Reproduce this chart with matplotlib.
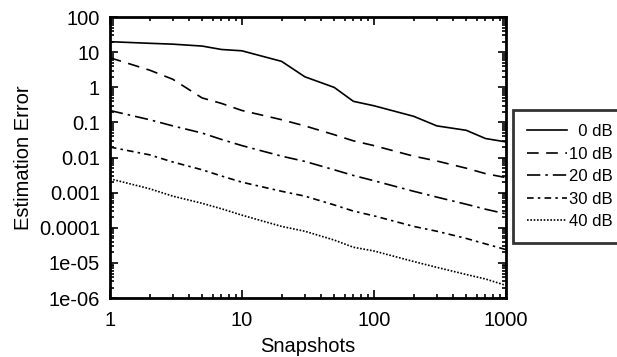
import matplotlib
matplotlib.use("Agg")
from matplotlib import pyplot as plt
from matplotlib.ticker import LogLocator, FixedLocator, NullFormatter

plt.rcParams["font.family"] = ["Liberation Sans", "DejaVu Sans"]
plt.rcParams["font.size"] = 14.5

snapshots = [1, 2, 3, 5, 7, 10, 20, 30, 50, 70, 100, 200, 300, 500, 700, 1000]

err_0db = [20, 18, 17, 15, 12, 11, 5.5, 2.0, 1.0, 0.4, 0.3, 0.15, 0.08, 0.06, 0.035, 0.028]
err_10db = [7, 3.1, 1.7, 0.5, 0.35, 0.22, 0.12, 0.08, 0.045, 0.03, 0.022, 0.011,
            0.008, 0.005, 0.0035, 0.0027]
err_20db = [0.22, 0.12, 0.08, 0.05, 0.033, 0.022, 0.011, 0.0078, 0.0045, 0.0031,
            0.0022, 0.0011, 0.00075, 0.00047, 0.00034, 0.00025]
err_30db = [0.02, 0.012, 0.0075, 0.0045, 0.003, 0.002, 0.0011, 0.0008, 0.00045,
            0.0003, 0.00022, 0.00011, 0.00008, 0.00005, 0.000035, 0.000024]
err_40db = [0.0025, 0.0013, 0.0008, 0.0005, 0.00035, 0.00023, 0.00011, 0.00008,
            0.000045, 0.000028, 0.000022, 0.000011, 0.0000075, 0.0000047,
            0.0000035, 0.0000023]

labels = ["\u20070 dB", "10 dB", "20 dB", "30 dB", "40 dB"]
y_ticks = [1e2, 1e1, 1, 1e-1, 1e-2, 1e-3, 1e-4, 1e-5, 1e-6]
y_ticklabels = ["100", "10", "1", "0.1", "0.01", "0.001", "0.0001", "1e-05", "1e-06"]
x_ticks = [1, 10, 100, 1000]
x_ticklabels = ["1", "10", "100", "1000"]

styles = [
    "-",
    (0, (7, 4.5)),
    (0, (8, 3, 1.5, 3)),
    (0, (4, 2.5, 1.5, 2.5)),
    (0, (1, 1)),
]

fig = plt.figure(figsize=(6.17, 3.57), dpi=100)
ax = fig.add_axes([0.178, 0.165, 0.642, 0.787])

series = [err_0db, err_10db, err_20db, err_30db, err_40db]
for vals, ls, lab in zip(series, styles, labels):
    ax.plot(snapshots, vals, color="black", linestyle=ls, linewidth=1.2, label=lab)

ax.set_xscale("log")
ax.set_yscale("log")
ax.set_xlim(1, 1000)
ax.set_ylim(1e-6, 100)

ax.yaxis.set_major_locator(FixedLocator(y_ticks))
ax.set_yticklabels(y_ticklabels)
ax.xaxis.set_major_locator(FixedLocator(x_ticks))
ax.set_xticklabels(x_ticklabels)
ax.xaxis.set_minor_locator(LogLocator(base=10, subs=range(2, 10)))
ax.yaxis.set_minor_locator(LogLocator(base=10, subs=range(2, 10), numticks=20))
ax.xaxis.set_minor_formatter(NullFormatter())
ax.yaxis.set_minor_formatter(NullFormatter())

ax.tick_params(which="both", direction="in", top=True, right=True, width=1.2)
ax.tick_params(which="major", length=6)
ax.tick_params(axis="x", which="major", pad=9)
ax.tick_params(axis="y", which="major", pad=7)
ax.tick_params(which="minor", length=3)
for sp in ax.spines.values():
    sp.set_linewidth(2)

ax.set_xlabel("Snapshots", labelpad=5)
ax.set_ylabel("Estimation Error", labelpad=4)

leg = fig.legend(
    loc="upper left",
    bbox_to_anchor=(0.831, 0.692),
    frameon=True,
    fancybox=False,
    edgecolor="black",
    handlelength=2.4,
    handletextpad=0.15,
    labelspacing=0.45,
    borderpad=0.85,
    borderaxespad=0,
    fontsize=12,
)
leg.get_frame().set_linewidth(2)

fig.savefig("out.png", dpi=100)
